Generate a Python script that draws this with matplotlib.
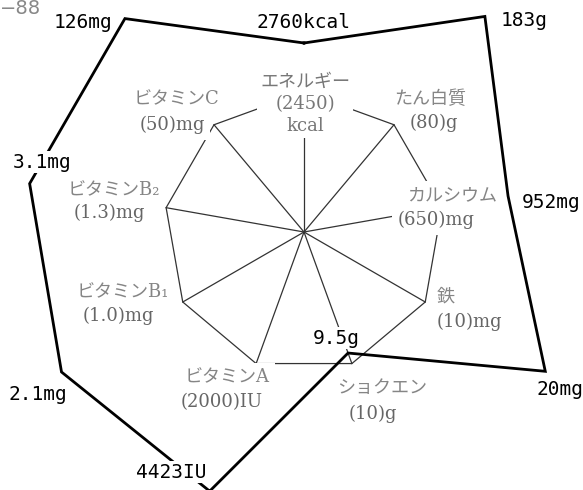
import numpy as np
import matplotlib.pyplot as plt

# 栄養素と基準量（内側の九角形 = 100%）
nutrients = ['エネルギー', 'たん白質', 'カルシウム', '鉄', 'ショクエン',
             'ビタミンA', 'ビタミンB₁', 'ビタミンB₂', 'ビタミンC']
standards = ['(2450)\nkcal', '(80)g', '(650)mg', '(10)mg', '(10)g',
             '(2000)IU', '(1.0)mg', '(1.3)mg', '(50)mg']
# 実際の摂取量と、図上に描かれた比率（基準=1）
intake = ['2760kcal', '183g', '952mg', '20mg', '9.5g',
          '4423IU', '2.1mg', '3.1mg', '126mg']
ratio = [1.35, 2.01, 1.48, 1.99, 0.92, 1.97, 2.0, 1.99, 1.99]

cx, cy, unit = 304, 232, 140
ang = np.deg2rad(np.arange(len(nutrients)) * 40)


def to_xy(r):
    r = np.asarray(r, dtype=float)
    return cx + unit * r * np.sin(ang), cy - unit * r * np.cos(ang)


jp = ['DejaVu Serif', 'Noto Sans CJK JP']
num = ['DejaVu Sans Mono']
white = dict(boxstyle='square,pad=0.3', fc='white', ec='none')
white_s = dict(boxstyle='square,pad=0.1', fc='white', ec='none')

fig = plt.figure(figsize=(5.83, 4.90), dpi=100)
ax = fig.add_axes([0, 0, 1, 1])
ax.set_xlim(0, 583)
ax.set_ylim(490, 0)
ax.axis('off')

# 基準の九角形と放射線
ix, iy = to_xy(np.ones(len(nutrients)))
ax.plot(np.append(ix, ix[0]), np.append(iy, iy[0]), color='#333333', lw=0.9, zorder=1)
for x, y in zip(ix, iy):
    ax.plot([cx, x], [cy, y], color='#333333', lw=0.9, zorder=1)

# 摂取量の多角形
ox, oy = to_xy(ratio)
ax.plot(np.append(ox, ox[0]), np.append(oy, oy[0]), color='black', lw=2.0,
        solid_joinstyle='miter', zorder=2)

# 栄養素名ラベル（エネルギーは3行をひとまとめ）
ax.text(305, 104, nutrients[0] + '\n' + standards[0], ha='center', va='center',
        fontsize=13, color='#777777', family=jp, linespacing=1.3,
        bbox=dict(boxstyle='square,pad=0.15', fc='white', ec='none'), zorder=3)

name_pos = [(430, 99), (452, 195), (437, 297), (382, 388),
            (227, 377), (123, 292), (114, 190), (176, 99)]
std_pos = [(434, 123), (436, 220), (437, 322), (373, 414),
           (222, 402), (118, 316), (109, 213), (172, 125)]
for i, (name, std) in enumerate(zip(nutrients[1:], standards[1:])):
    ha = 'left' if name == '鉄' else 'center'
    ax.text(*name_pos[i], name, ha=ha, va='center', fontsize=13, color='#858585',
            family=jp, bbox=white, zorder=3)
    ax.text(*std_pos[i], std, ha=ha, va='center', fontsize=13, color='#666666',
            family=jp, bbox=white, zorder=3)

# 摂取量ラベル
val_pos = [(304, 23), (524, 20), (551, 202), (560, 389), (336, 338),
           (171, 472), (38, 394), (42, 162), (83, 23)]
for (x, y), txt in zip(val_pos, intake):
    ax.text(x, y, txt, ha='center', va='center', fontsize=14, color='black',
            family=num, bbox=white_s, zorder=4)

ax.text(0, 8, '−88', ha='left', va='center', fontsize=14, color='#888888',
        family=['DejaVu Sans'], zorder=4)

fig.savefig('out.png', dpi=100)
